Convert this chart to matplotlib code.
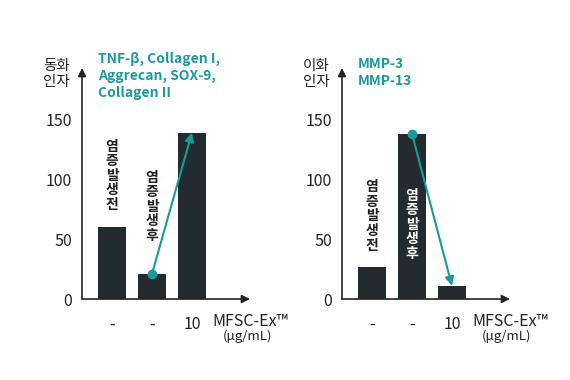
import matplotlib
matplotlib.use("Agg")
import matplotlib.pyplot as plt

plt.rcParams['font.family'] = ['Noto Sans CJK KR', 'DejaVu Sans']

# data
tick_labels = ['-', '-', '10']
anabolic = [60, 21, 139]      # 동화인자
catabolic = [27, 138, 11]     # 이화인자
anabolic_genes = 'TNF-β, Collagen I,\nAggrecan, SOX-9,\nCollagen II'
catabolic_genes = 'MMP-3\nMMP-13'

BAR = '#232b2e'
TEAL = '#1b9a9c'
INK = '#222222'
W, H = 570, 380


def panel(fig, left_px, values, ylabel, genes, genes_y, label_y, after_inside):
    ax = fig.add_axes([left_px / W, (H - 299) / H, 168 / W, 231 / H])
    x = [0, 1, 2]
    ax.bar(x, values, width=0.7, color=BAR)
    ax.set_xlim(-0.75, 3.45)
    ax.set_ylim(0, 193)
    for s in ax.spines.values():
        s.set_visible(False)
    ax.set_yticks([0, 50, 100, 150])
    ax.set_xticks(x)
    ax.set_xticklabels(tick_labels)
    ax.tick_params(length=0, labelsize=11.5, colors=INK)
    ax.tick_params(axis='y', pad=7)
    ax.tick_params(axis='x', pad=12)

    # axis arrows
    ax.annotate('', xy=(-0.75, 193), xytext=(-0.75, 0), annotation_clip=False,
                arrowprops=dict(arrowstyle='-|>', color=INK, lw=1.2,
                                mutation_scale=12, shrinkA=0, shrinkB=0))
    ax.annotate('', xy=(3.45, 0), xytext=(-0.75, 0), annotation_clip=False,
                arrowprops=dict(arrowstyle='-|>', color=INK, lw=1.2,
                                mutation_scale=12, shrinkA=0, shrinkB=0))

    ax.text(-1.05, 188, ylabel, ha='right', va='center', fontsize=10.5,
            color=INK, linespacing=1.15, clip_on=False)
    ax.text(-0.35, genes_y, genes, ha='left', va='center', fontsize=10,
            fontweight='bold', color=TEAL, linespacing=1.25, clip_on=False)

    ax.text(2.5, -19, 'MFSC-Ex™', ha='left', va='center', fontsize=11.5,
            color=INK, clip_on=False)
    ax.text(3.375, -31, '(μg/mL)', ha='center', va='center', fontsize=9.5,
            color=INK, clip_on=False)

    # vertical labels
    before = '\n'.join('염증발생전')
    after = '\n'.join('염증발생후')
    ax.text(0, label_y[0], before, ha='center', va='center', fontsize=10,
            color=INK, fontweight='bold', linespacing=1.05)
    ax.text(1, label_y[1], after, ha='center', va='center', fontsize=10,
            color='white' if after_inside else INK, fontweight='bold',
            linespacing=1.05)

    # trend arrow from the 2nd bar to the 3rd
    start = (1, values[1])
    end = (2, values[2])
    ax.plot([start[0]], [start[1]], 'o', color=TEAL, ms=6, zorder=4)
    ax.annotate('', xy=end, xytext=start,
                arrowprops=dict(arrowstyle='-|>', color=TEAL, lw=1.5,
                                mutation_scale=13, shrinkA=0, shrinkB=0),
                zorder=4)
    return ax


fig = plt.figure(figsize=(W / 100, H / 100), dpi=100)
panel(fig, 82, anabolic, '동화\n인자', anabolic_genes, 186.5, (103, 77), False)
panel(fig, 342, catabolic, '이화\n인자', catabolic_genes, 189, (69, 62), True)
fig.savefig('out.png', dpi=100)
